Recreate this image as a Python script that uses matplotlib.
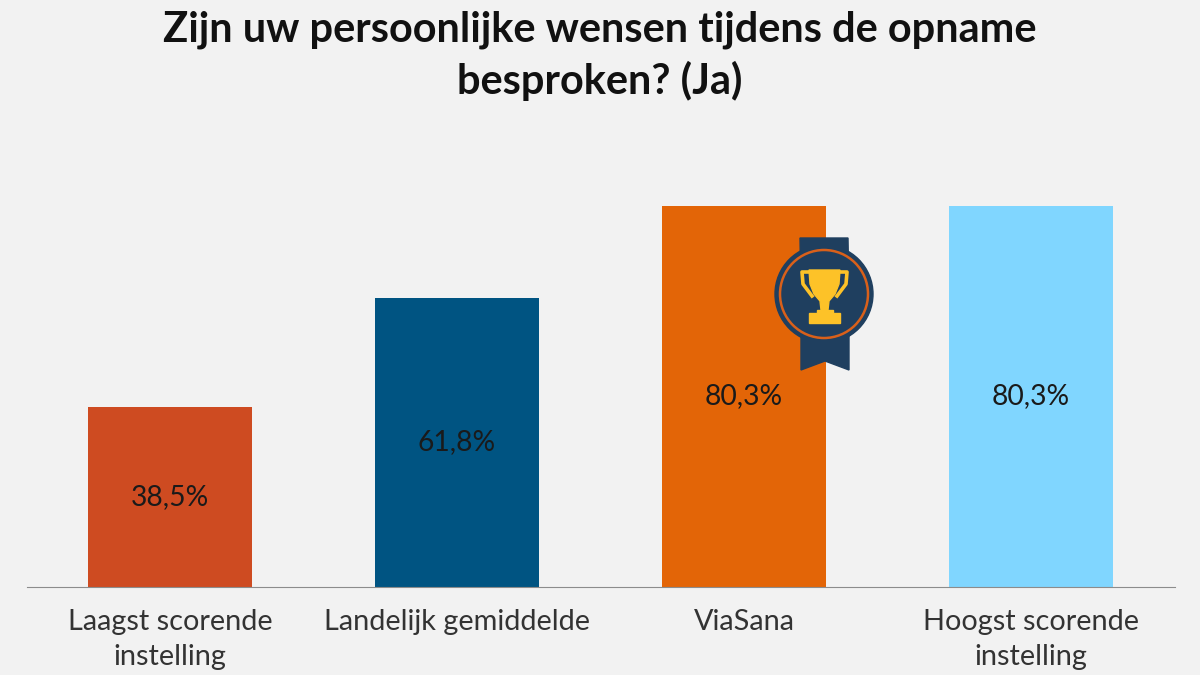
# -*- coding: utf-8 -*-
import matplotlib
matplotlib.use('Agg')
import matplotlib.pyplot as plt
import numpy as np

labels = ['Laagst scorende\ninstelling', 'Landelijk gemiddelde', 'ViaSana', 'Hoogst scorende\ninstelling']
vals = [37.9, 60.9, 80.3, 80.3] # as drawn, bars are a bit lower than their labels
val_text = ['38,5%', '61,8%', '80,3%', '80,3%']
colors = ['#CE4B21', '#005482', '#E36507', '#80D6FF']

plt.rcParams['font.family'] = 'Lato'
bg = '#F2F2F2'

plt.figure(figsize=(12, 6.75), dpi=100, facecolor=bg)
plt.axes([26.5 / 1200, 88 / 675, 1148 / 1200, 381 / 675], facecolor=bg)
x = np.arange(4)
plt.bar(x, vals, 0.571, color=colors)
for i in range(4):
    plt.text(x[i], vals[i] / 2, val_text[i], ha='center', va='center', fontsize=20.3, color='#1a1a1a')
plt.xlim(-0.5, 3.5)
plt.ylim(0, 80.3)
plt.yticks([])
plt.xticks(x, labels, fontsize=20.8, color='#333333', linespacing=1.42)
plt.tick_params(axis='x', length=0, pad=16)
ax = plt.gca()
for s in ['top', 'left', 'right']:
    ax.spines[s].set_visible(False)
ax.spines['bottom'].set_color('#8c8c8c')

plt.figtext(0.5, 0.917, 'Zijn uw persoonlijke wensen tijdens de opname\nbesproken? (Ja)',
            ha='center', va='center', fontsize=29.9, fontweight='bold', color='#111111', linespacing=1.36)

# badge on top of the orange bar, in pixels
plt.axes([0, 0, 1, 1], facecolor='none')
plt.xlim(0, 1200)
plt.ylim(675, 0)
plt.axis('off')
navy = '#1F3F5F'
gold = '#FDC228'
plt.fill([800, 848, 849, 849, 825, 801, 801], [238, 238, 300, 370, 361, 370, 300], color=navy)
plt.gca().add_patch(plt.Circle((824, 294), 49, color=navy))
plt.gca().add_patch(plt.Circle((824, 294), 44, fill=False, ec='#D9601A', lw=1.8))
# handles
plt.plot([809, 802, 803, 812], [272, 272, 284, 296], color=gold, lw=2.6)
plt.plot([840, 847, 846, 837], [272, 272, 284, 296], color=gold, lw=2.6)
# cup, stem, base
plt.fill([809, 840, 839, 835, 829, 828, 829, 820, 821, 820, 814, 810],
         [270, 270, 284, 294, 301, 310, 313, 313, 310, 301, 294, 284], color=gold)
plt.fill([817, 833, 833, 840, 840, 809, 809, 817], [310, 310, 313, 313, 323, 323, 313, 313], color=gold)

plt.savefig('out.png', dpi=100, facecolor=bg)
